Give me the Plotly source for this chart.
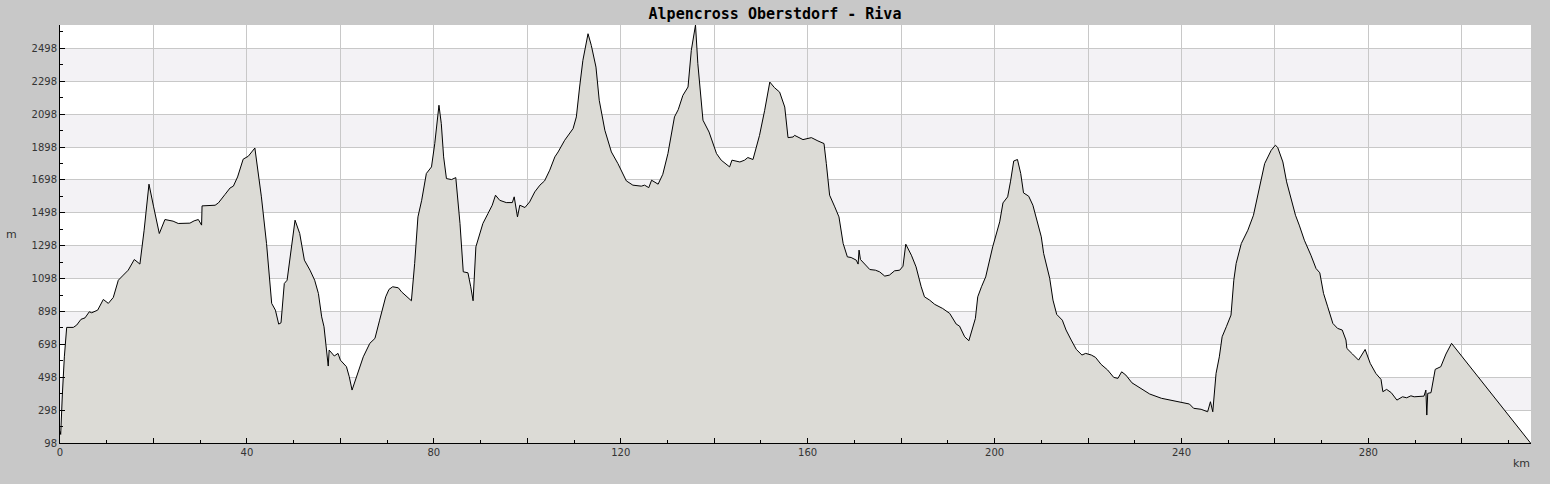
import plotly.graph_objects as go

# distance along route (km) and elevation (m)
km = [0, 0.15, 0.5, 0.7, 0.93, 1.43, 2.85, 3.57, 4.49, 5.35, 6.27, 6.78, 8.06, 9.27, 10.34,
      11.4, 12.48, 13.55, 14.6, 15.9, 17.1, 18.0, 19.04, 20.04, 21.25, 22.46, 24.2, 25.3,
      27.8, 28.7, 29.6, 30.3, 30.4, 33.2, 33.9, 35.3, 36.4, 37.1, 38.0, 39.2, 40.3, 41.7,
      43.1, 44.2, 45.3, 46.1, 46.8, 47.3, 48.0, 48.6, 50.3, 51.3, 52.3, 53.5, 54.5, 55.3,
      56.0, 56.5, 57.0, 57.4, 57.6, 58.7, 59.5, 60.0, 61.3, 61.9, 62.5, 63.5, 64.9, 66.3,
      67.4, 68.4, 69.7, 70.4, 71.2, 72.4, 73.1, 75.2, 75.9, 76.6, 77.4, 78.4, 79.5, 80.2,
      81.1, 81.6, 82.1, 82.7, 83.8, 84.7, 85.2, 85.6, 86.3, 87.3, 87.9, 88.4, 89.0, 89.8,
      90.5, 91.6, 92.5, 93.2, 94.1, 95.5, 96.8, 97.2, 97.5, 97.9, 98.4, 99.5, 100.5, 101.6,
      102.7, 103.7, 104.8, 105.9, 106.6, 108.0, 109.8, 110.5, 111.2, 111.9, 113.0, 113.7,
      114.7, 115.4, 116.6, 118.0, 119.4, 121.2, 122.6, 124.4, 125.1, 126.0, 126.6, 128.0,
      129.0, 130.1, 131.5, 132.3, 133.3, 134.4, 135.1, 136.0, 136.5, 137.6, 138.9, 140.5,
      141.5, 143.3, 143.8, 145.5, 146.5, 147.2, 148.3, 149.7, 150.8, 151.9, 152.9, 154.0,
      155.1, 155.8, 156.9, 157.2, 159.0, 160.8, 162.2, 163.5, 164.0, 164.7, 165.8, 166.7,
      167.6, 168.5, 169.3, 170.4, 170.8, 171.0, 171.3, 173.3, 174.5, 175.4, 176.5, 177.5,
      178.6, 179.7, 180.4, 181.0, 182.2, 183.2, 184.3, 185.0, 186.1, 187.2, 188.9, 190.4,
      191.8, 192.5, 193.6, 194.5, 195.9, 196.4, 197.2, 198.1, 199.6, 201.1, 201.8, 202.8,
      203.4, 204.1, 204.9, 205.6, 206.2, 207.3, 208.2, 209.1, 210.0, 210.5, 211.8, 212.5,
      213.3, 214.5, 215.3, 216.4, 217.5, 218.7, 219.5, 220.7, 221.6, 222.8, 224.2, 225.5,
      226.4, 227.2, 228.1, 229.4, 231.0, 233.2, 235.7, 238.5, 240.3, 241.7, 242.6, 244.2,
      245.6, 246.2, 246.7, 247.4, 248.1, 248.7, 249.6, 250.6, 251.2, 251.7, 252.8, 254.2,
      255.4, 256.3, 256.9, 257.8, 259.2, 260.1, 260.6, 261.7, 262.5, 264.4, 265.2, 266.3,
      267.7, 268.8, 269.6, 270.4, 271.3, 272.4, 273.4, 274.4, 275.2, 275.4, 276.6, 277.9,
      279.3, 280.4, 281.6, 282.7, 283.1, 283.9, 284.9, 286.1, 287.3, 288.2, 289.1, 289.8,
      291.9, 292.3, 292.5, 292.7, 293.4, 293.8, 294.3, 295.5, 296.6, 297.8, 314.7]

elev = [170, 150, 390, 501, 622, 801, 801, 815, 850, 859, 896, 890, 906, 971, 947,
        983, 1088, 1119, 1149, 1214, 1186, 1392, 1672, 1534, 1372, 1457, 1447, 1433,
        1435, 1449, 1457, 1423, 1540, 1544, 1558, 1609, 1649, 1660, 1716, 1824, 1842, 1892,
        1595, 1311, 947, 906, 821, 829, 1068, 1088, 1453, 1372, 1210, 1149, 1088, 1007,
        865, 805, 663, 566, 663, 627, 643, 602, 562, 501, 420, 501, 622, 704,
        734, 845, 987, 1032, 1048, 1042, 1017, 963, 1190, 1473, 1574, 1737, 1777, 1919,
        2152, 2040, 1838, 1706, 1700, 1712, 1574, 1433, 1139, 1133, 1048, 963, 1291, 1372,
        1433, 1494, 1544, 1605, 1574, 1560, 1560, 1595, 1534, 1473, 1544, 1530, 1564, 1625,
        1666, 1692, 1757, 1838, 1868, 1939, 2010, 2081, 2263, 2425, 2587, 2516,
        2384, 2182, 2000, 1868, 1797, 1692, 1666, 1660, 1666, 1651, 1696, 1672,
        1732, 1858, 2081, 2125, 2212, 2263, 2486, 2640, 2405, 2061, 1989, 1858,
        1818, 1777, 1818, 1807, 1818, 1834, 1822, 1969, 2121, 2293, 2259, 2232,
        2141, 1955, 1959, 1969, 1943, 1955, 1935, 1919, 1797, 1605, 1534, 1473,
        1311, 1230, 1226, 1210, 1186, 1271, 1214, 1153, 1149, 1139, 1113, 1119,
        1145, 1149, 1173, 1307, 1240, 1169, 1048, 987, 967, 941, 916, 886,
        821, 809, 744, 720, 856, 987, 1048, 1108, 1291, 1443, 1558, 1595,
        1686, 1813, 1822, 1737, 1619, 1599, 1544, 1453, 1352, 1251, 1100, 967,
        880, 845, 785, 724, 667, 633, 643, 633, 619, 576, 542, 497,
        491, 531, 511, 464, 436, 396, 370, 353, 343, 335, 309, 303,
        288, 349, 288, 521, 622, 744, 805, 876, 1088, 1190, 1311, 1392,
        1483, 1605, 1686, 1797, 1878, 1909, 1895, 1807, 1686, 1483, 1423, 1331,
        1240, 1159, 1133, 1008, 926, 825, 795, 785, 724, 673, 639, 602,
        667, 582, 521, 485, 410, 424, 404, 359, 379, 373, 385, 379,
        383, 420, 268, 400, 404, 461, 546, 562, 639, 704, 98]

y_ticks = [98, 298, 498, 698, 898, 1098, 1298, 1498, 1698, 1898, 2098, 2298, 2498]
x_ticks = list(range(0, 320, 20))
x_labels = [str(v) if v % 40 == 0 else "" for v in x_ticks]

title_text = "Alpencross Oberstdorf - Riva"
x_title = "km"
y_title = "m"

fig = go.Figure()
fig.add_trace(go.Scatter(
    x=km, y=elev, mode="lines", fill="tozeroy",
    line=dict(color="black", width=1), fillcolor="#dcdbd6",
    hoverinfo="x+y", showlegend=False,
))

# alternating horizontal bands
shapes = []
for i in range(len(y_ticks) - 1):
    if i % 2 == 1:
        shapes.append(dict(type="rect", xref="paper", yref="y", x0=0, x1=1,
                           y0=y_ticks[i], y1=y_ticks[i + 1],
                           fillcolor="#f3f2f5", line=dict(width=0), layer="below"))

tickfont = dict(family="DejaVu Sans", size=10, color="#333333")

fig.update_layout(
    width=1550, height=484,
    paper_bgcolor="#c8c8c8", plot_bgcolor="white",
    margin=dict(l=60, r=19, t=25, b=41),
    shapes=shapes,
    title=dict(text="<b>" + title_text + "</b>", x=0.5, xref="container", y=1 - 14 / 484,
               yref="container", xanchor="center", yanchor="middle",
               font=dict(family="DejaVu Sans Mono", size=15, color="black")),
    xaxis=dict(range=[0, 314.8], tickmode="array", tickvals=x_ticks, ticktext=x_labels,
               ticks="inside", ticklen=5, tickcolor="black", tickwidth=1,
               showgrid=True, gridcolor="#c8c8c8", gridwidth=1,
               showline=True, linecolor="black", linewidth=1, zeroline=False,
               tickfont=tickfont,
               minor=dict(dtick=10, tick0=0, ticks="inside", ticklen=3,
                          tickcolor="black", showgrid=False)),
    yaxis=dict(range=[98, 2640], tickmode="array", tickvals=y_ticks,
               ticks="inside", ticklen=5, tickcolor="black", tickwidth=1,
               showgrid=True, gridcolor="#c8c8c8", gridwidth=1,
               showline=True, linecolor="black", linewidth=1, zeroline=False,
               tickfont=tickfont,
               minor=dict(dtick=100, tick0=98, ticks="inside", ticklen=3,
                          tickcolor="black", showgrid=False)),
    annotations=[
        dict(text=x_title, xref="paper", yref="paper", x=(1521 - 60) / 1471,
             y=-(463 - 443) / 418, showarrow=False, xanchor="center", yanchor="middle",
             font=dict(family="DejaVu Sans", size=11, color="#333333")),
        dict(text=y_title, xref="paper", yref="paper", x=-(60 - 11) / 1471,
             y=0.5, showarrow=False, xanchor="center", yanchor="middle",
             font=dict(family="DejaVu Sans", size=11, color="#333333")),
    ],
)

fig.write_html(
    "out.html",
    config={"displayModeBar": False},
    post_script="document.body.style.margin='0';document.body.style.overflow='hidden';"
                "document.body.style.background='#c8c8c8';",
)
